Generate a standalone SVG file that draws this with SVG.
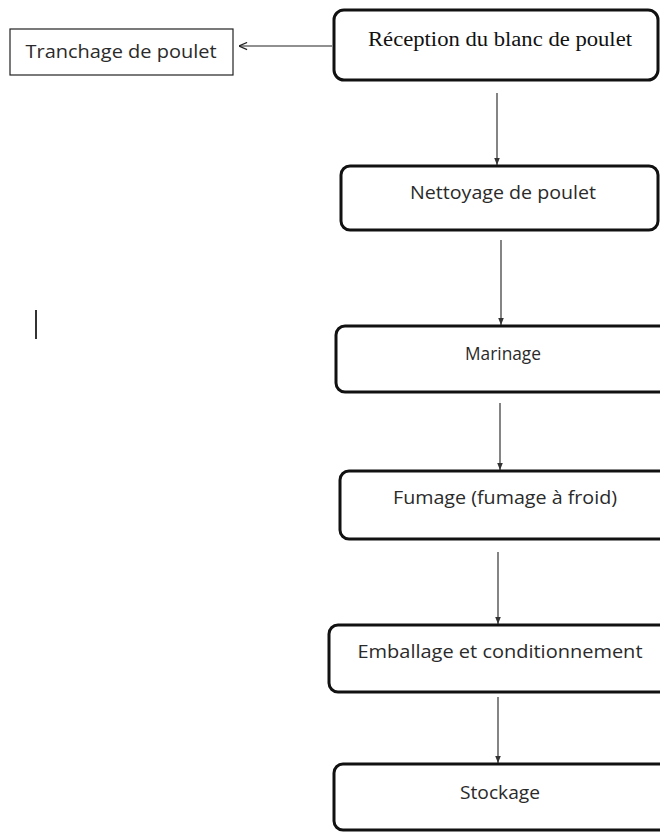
<svg xmlns="http://www.w3.org/2000/svg" width="660" height="832" viewBox="0 0 660 832">
  <style>
    .step { fill: #ffffff; stroke: #111111; stroke-width: 3; }
    .side { fill: #ffffff; stroke: #222222; stroke-width: 1.2; }
    .lbl { font-family: "Open Sans", "Liberation Sans", sans-serif; font-size: 18.5px; fill: #2a2a2a; text-anchor: middle; }
    .serif { font-family: "Liberation Serif", "Times New Roman", serif; font-size: 20px; fill: #111111; text-anchor: middle; }
    .flow { stroke: #333333; stroke-width: 1.2; fill: none; marker-end: url(#head); }
  </style>
  <defs>
    <marker id="head" viewBox="0 0 10 10" refX="10" refY="5" markerWidth="7" markerHeight="7" markerUnits="userSpaceOnUse" orient="auto">
      <path d="M0,1 L10,5 L0,9 z" fill="#333333"/>
    </marker>
    <marker id="open" viewBox="0 0 10 10" refX="10" refY="5" markerWidth="9" markerHeight="9" markerUnits="userSpaceOnUse" orient="auto">
      <path d="M1,1 L10,5 L1,9" fill="none" stroke="#222222" stroke-width="1.3"/>
    </marker>
  </defs>

  <!-- connectors -->
  <g id="connectors">
    <line x1="332" y1="46" x2="239" y2="46" stroke="#222222" stroke-width="1.2" marker-end="url(#open)"/>
    <line class="flow" x1="497" y1="93" x2="497" y2="165"/>
    <line class="flow" x1="501" y1="240" x2="501" y2="325"/>
    <line class="flow" x1="500" y1="403" x2="500" y2="470"/>
    <line class="flow" x1="498" y1="552" x2="498" y2="624"/>
    <line class="flow" x1="498" y1="697" x2="498" y2="763"/>
  </g>

  <g id="reception">
    <rect class="step" x="334" y="10" width="324" height="70" rx="10"/>
    <text class="serif" x="500" y="46" textLength="264" lengthAdjust="spacingAndGlyphs">Réception du blanc de poulet</text>
  </g>

  <g id="tranchage">
    <rect class="side" x="10" y="29" width="223" height="46"/>
    <text class="lbl" x="121" y="58" textLength="191" lengthAdjust="spacingAndGlyphs">Tranchage de poulet</text>
  </g>

  <g id="nettoyage">
    <rect class="step" x="341" y="166" width="317" height="64" rx="9"/>
    <text class="lbl" x="503" y="199" textLength="186" lengthAdjust="spacingAndGlyphs">Nettoyage de poulet</text>
  </g>

  <g id="marinage">
    <rect class="step" x="336" y="326" width="340" height="66" rx="9"/>
    <text class="lbl" x="503" y="360" textLength="76" lengthAdjust="spacingAndGlyphs">Marinage</text>
  </g>

  <g id="fumage">
    <rect class="step" x="340" y="471" width="340" height="68" rx="9"/>
    <text class="lbl" x="505" y="504" textLength="224" lengthAdjust="spacingAndGlyphs">Fumage (fumage à froid)</text>
  </g>

  <g id="emballage">
    <rect class="step" x="329" y="625" width="350" height="67" rx="9"/>
    <text class="lbl" x="500" y="658" textLength="285" lengthAdjust="spacingAndGlyphs">Emballage et conditionnement</text>
  </g>

  <g id="stockage">
    <rect class="step" x="334" y="764" width="346" height="66" rx="9"/>
    <text class="lbl" x="500" y="799" textLength="80" lengthAdjust="spacingAndGlyphs">Stockage</text>
  </g>

  <!-- stray vertical stroke at left -->
  <line x1="36" y1="310" x2="36" y2="339" stroke="#333333" stroke-width="2"/>
</svg>
